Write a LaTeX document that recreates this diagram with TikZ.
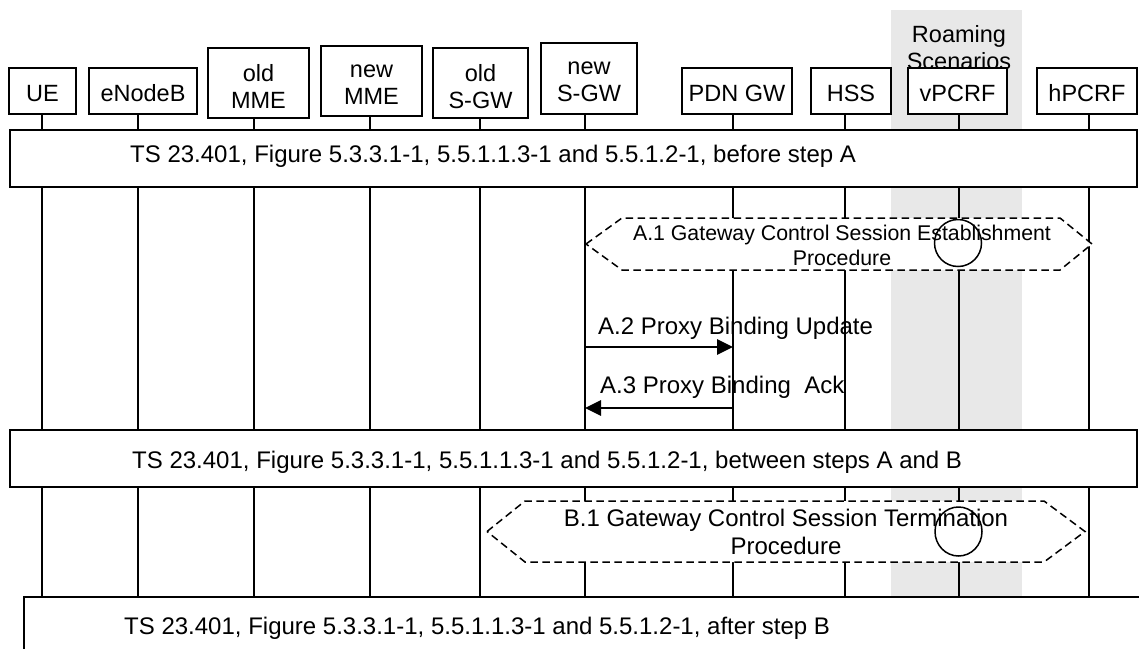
\documentclass[tikz,border=0pt]{standalone}
\usepackage{fontspec}
\setmainfont{Liberation Sans}
\usetikzlibrary{arrows.meta,shapes.geometric}
\definecolor{bandgray}{HTML}{E8E8E8}
\begin{document}
\begin{tikzpicture}[x=1pt,y=-1pt,
  hdr/.style={draw, line width=2pt, fill=white, inner sep=0pt},
  hdrtext/.style={align=center, inner sep=0pt, yshift=-2.5pt,
    font=\fontsize{23.5}{26.5}\selectfont},
  lifeline/.style={line width=1.5pt},
  bigbox/.style={draw, line width=2.3pt, fill=white, inner sep=0pt, anchor=north west},
  boxtext/.style={anchor=base west, inner sep=0pt, font=\fontsize{24}{27}\selectfont},
  hexa/.style={draw, dash pattern=on 7.5pt off 4.5pt, line width=1.5pt, fill=white},
  hextext/.style={align=center, inner sep=0pt},
  marker/.style={ellipse, draw, line width=1.5pt, inner sep=0pt},
  msg/.style={line width=2.8pt, -{Triangle[length=16pt,width=15pt]}},
  msgtext/.style={anchor=base west, inner sep=0pt, font=\fontsize{24}{27}\selectfont}
]
\useasboundingbox (0,0) rectangle (1139,648);
% roaming band
\fill[bandgray] (891,10) rectangle (1022,648);
\node[align=center, inner sep=0pt, font=\fontsize{23.5}{27}\selectfont] (roam) at (959,48) {Roaming\\Scenarios};

% header boxes
\node[hdr, minimum width=67pt, minimum height=46pt] (ue) at (42.5,91) {};
\node[hdr, minimum width=108pt, minimum height=46pt] (enb) at (143,91) {};
\node[hdr, minimum width=101pt, minimum height=70pt] (omme) at (258.5,83) {};
\node[hdr, minimum width=101pt, minimum height=70pt] (nmme) at (371.5,81) {};
\node[hdr, minimum width=95pt, minimum height=70pt] (osgw) at (480.5,83) {};
\node[hdr, minimum width=96pt, minimum height=71pt] (nsgw) at (589,78.5) {};
\node[hdr, minimum width=110pt, minimum height=46pt] (pdn) at (737,91) {};
\node[hdr, minimum width=80pt, minimum height=46pt] (hss) at (851,91) {};
\node[hdr, minimum width=99pt, minimum height=46pt] (vpcrf) at (957.5,91) {};
\node[hdr, minimum width=100pt, minimum height=46pt] (hpcrf) at (1087,91) {};
\node[hdrtext] (ueT) at (ue) {UE};
\node[hdrtext] (enbT) at (enb) {eNodeB};
\node[hdrtext, yshift=-1pt] (ommeT) at (omme) {old\\MME};
\node[hdrtext, yshift=-1pt] (nmmeT) at (nmme) {new\\MME};
\node[hdrtext, yshift=-1pt] (osgwT) at (osgw) {old\\S-GW};
\node[hdrtext, yshift=-1pt] (nsgwT) at (nsgw) {new\\S-GW};
\node[hdrtext] (pdnT) at (pdn) {PDN GW};
\node[hdrtext] (hssT) at (hss) {HSS};
\node[hdrtext] (vpcrfT) at (vpcrf) {vPCRF};
\node[hdrtext] (hpcrfT) at (hpcrf) {hPCRF};

% lifeline ends
\coordinate (ueE) at (42,648);
\coordinate (enbE) at (138,648);
\coordinate (ommeE) at (254,648);
\coordinate (nmmeE) at (370,648);
\coordinate (osgwE) at (480,648);
\coordinate (nsgwE) at (585,648);
\coordinate (pdnE) at (733,648);
\coordinate (hssE) at (845,648);
\coordinate (vpcrfE) at (959,648);
\coordinate (hpcrfE) at (1089,648);
\foreach \n in {ue,enb,omme,nmme,osgw,nsgw,pdn,hss,vpcrf,hpcrf}
  \draw[lifeline] (\n.south -| \n E) -- (\n E);

% top box
\node[bigbox, minimum width=1127pt, minimum height=57pt] (boxA) at (9,129) {};
\node[boxtext] (txtA) at (130,162) {TS 23.401, Figure 5.3.3.1-1, 5.5.1.1.3-1 and 5.5.1.2-1, before step A};

% A.1 hexagon
\draw[hexa] (586,244) -- (622,218) -- (1060,218) -- (1092,244) -- (1060,270) -- (622,270) -- cycle;
\node[hextext, font=\fontsize{21.3}{25}\selectfont] (a1) at (842,245) {A.1 Gateway Control Session Establishment\\Procedure};
\node[marker, minimum width=47pt, minimum height=47pt] (c1) at (958,243) {};

% A.2 / A.3
\coordinate (a2s) at (nsgwE |- 0,347);
\coordinate (a2e) at (pdnE |- 0,347);
\draw[msg] (a2s) -- (a2e);
\node[msgtext] (a2) at (598,334) {A.2 Proxy Binding Update};
\coordinate (a3s) at (pdnE |- 0,408);
\coordinate (a3e) at (nsgwE |- 0,408);
\draw[msg] (a3s) -- (a3e);
\node[msgtext] (a3) at (600,393) {A.3 Proxy Binding\ \ Ack};

% middle box
\node[bigbox, minimum width=1127pt, minimum height=57pt] (boxB) at (9,429) {};
\node[boxtext] (txtB) at (132,468) {TS 23.401, Figure 5.3.3.1-1, 5.5.1.1.3-1 and 5.5.1.2-1, between steps A and B};

% B.1 hexagon
\draw[hexa] (487,531.5) -- (525,501) -- (1044,501) -- (1085,531.5) -- (1044,562) -- (525,562) -- cycle;
\node[hextext, font=\fontsize{24}{28}\selectfont] (b1) at (786,532) {B.1 Gateway Control Session Termination\\Procedure};
\node[marker, minimum width=47pt, minimum height=49pt] (c2) at (958.5,531.5) {};

% bottom box
\node[bigbox, minimum width=1140pt, minimum height=90pt] (boxC) at (23,596) {};
\node[boxtext] (txtC) at (124,634) {TS 23.401, Figure 5.3.3.1-1, 5.5.1.1.3-1 and 5.5.1.2-1, after step B};
\end{tikzpicture}
\end{document}
